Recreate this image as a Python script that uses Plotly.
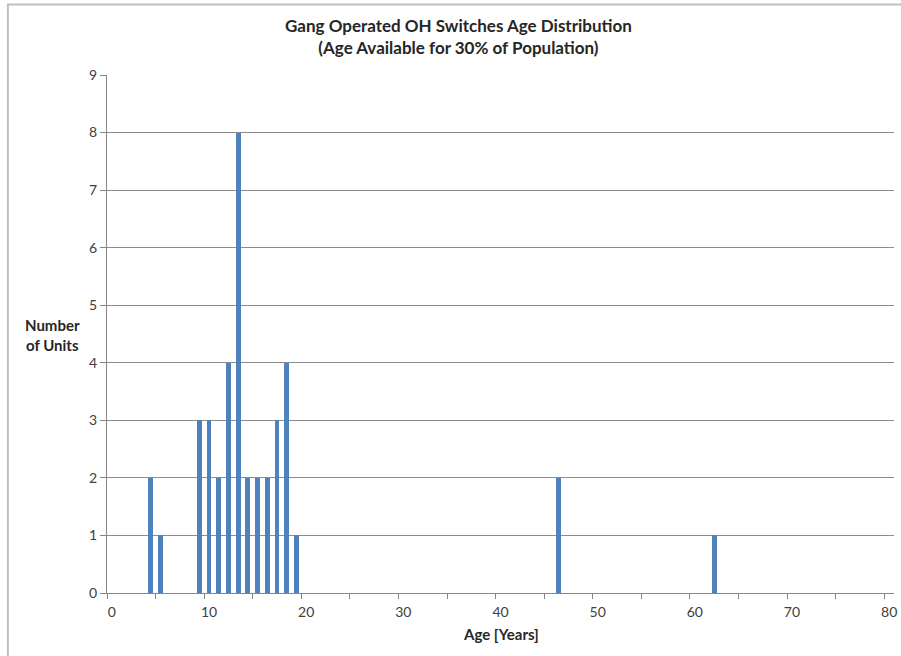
import plotly.graph_objects as go

ages = [4, 5, 9, 10, 11, 12, 13, 14, 15, 16, 17, 18, 19, 46, 62]
counts = [2, 1, 3, 3, 2, 4, 8, 2, 2, 2, 3, 4, 1, 2, 1]
x_tick_vals = [0, 10, 20, 30, 40, 50, 60, 70, 80]
y_tick_vals = list(range(0, 10))

title_text = "Gang Operated OH Switches Age Distribution<br>(Age Available for 30% of Population)"
x_title = "Age [Years]"
y_title = "Number<br>of Units"

FONT = "Lato"
W, H = 901, 656
L, R, T, B = 107, 4, 75, 63
pw = W - L - R
ph = H - T - B

def px_x(p):
    return (p - L) / pw

def px_y(p):
    return (H - B - p) / ph

fig = go.Figure()
fig.add_trace(go.Bar(x=ages, y=counts, width=0.5, marker=dict(color="#4F81BD", line=dict(width=0)), showlegend=False))

fig.update_layout(
    width=W, height=H,
    margin=dict(l=L, r=R, t=T, b=B),
    paper_bgcolor="white", plot_bgcolor="white",
    font=dict(family=FONT, size=12, color="#404040"),
    bargap=0,
    xaxis=dict(
        range=[-0.5, 80.5], tickmode="array", tickvals=x_tick_vals,
        ticks="", showgrid=False, zeroline=False,
        showline=True, linecolor="#868686", linewidth=1,
        tickfont=dict(size=14, color="#404040"),
        ticklabelstandoff=6,
        minor=dict(tick0=-0.5, dtick=5, ticks="outside", ticklen=5, tickcolor="#868686", showgrid=False),
    ),
    yaxis=dict(
        range=[0, 9], tickmode="array", tickvals=y_tick_vals,
        ticks="outside", ticklen=6, tickcolor="#868686",
        showgrid=True, gridcolor="#8C8C8C", gridwidth=1, zeroline=False,
        showline=True, linecolor="#868686", linewidth=1,
        tickfont=dict(size=14, color="#404040"),
    ),
    shapes=[dict(type="rect", xref="paper", yref="paper",
                 x0=px_x(7.5), y0=px_y(700), x1=px_x(1000), y1=px_y(4.5),
                 line=dict(color="#C0C0C0", width=2), fillcolor="rgba(0,0,0,0)", layer="below")],
    annotations=[
        dict(text="<b>" + title_text + "</b>", xref="paper", yref="paper",
             x=px_x(460), y=px_y(36), xanchor="center", yanchor="middle",
             showarrow=False, font=dict(size=17, color="#262626", family=FONT)),
        dict(text="<b>" + x_title + "</b>", xref="paper", yref="paper",
             x=px_x(502), y=px_y(634), xanchor="center", yanchor="middle",
             showarrow=False, font=dict(size=15, color="#262626", family=FONT)),
        dict(text="<b>" + y_title + "</b>", xref="paper", yref="paper",
             x=px_x(52), y=px_y(335), xanchor="center", yanchor="middle",
             showarrow=False, font=dict(size=15, color="#262626", family=FONT)),
    ],
)

fig.write_html("out.html", config={"displayModeBar": False},
               post_script="document.body.style.margin='0';document.body.style.overflow='hidden';")
